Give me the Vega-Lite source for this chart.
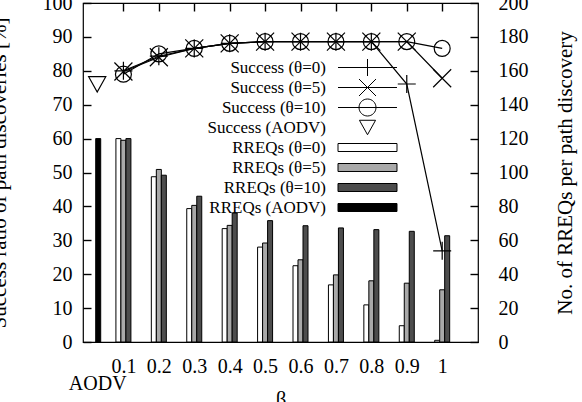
{
  "$schema": "https://vega.github.io/schema/vega-lite/v6.json",
  "width": 395,
  "height": 339,
  "autosize": {"type": "none"},
  "padding": {"left": 83, "top": 3, "right": 104, "bottom": 60},
  "background": "white",
  "data": {"values": [
    {"beta": 0.1, "series": "Success (θ=0)", "value": 80},
    {"beta": 0.2, "series": "Success (θ=0)", "value": 84.3},
    {"beta": 0.3, "series": "Success (θ=0)", "value": 86.6},
    {"beta": 0.4, "series": "Success (θ=0)", "value": 88.1},
    {"beta": 0.5, "series": "Success (θ=0)", "value": 88.6},
    {"beta": 0.6, "series": "Success (θ=0)", "value": 88.6},
    {"beta": 0.7, "series": "Success (θ=0)", "value": 88.6},
    {"beta": 0.8, "series": "Success (θ=0)", "value": 88.6},
    {"beta": 0.9, "series": "Success (θ=0)", "value": 76.1},
    {"beta": 1, "series": "Success (θ=0)", "value": 26.9},
    {"beta": 0.1, "series": "Success (θ=5)", "value": 79.8},
    {"beta": 0.2, "series": "Success (θ=5)", "value": 84},
    {"beta": 0.3, "series": "Success (θ=5)", "value": 86.6},
    {"beta": 0.4, "series": "Success (θ=5)", "value": 88.1},
    {"beta": 0.5, "series": "Success (θ=5)", "value": 88.6},
    {"beta": 0.6, "series": "Success (θ=5)", "value": 88.6},
    {"beta": 0.7, "series": "Success (θ=5)", "value": 88.6},
    {"beta": 0.8, "series": "Success (θ=5)", "value": 88.6},
    {"beta": 0.9, "series": "Success (θ=5)", "value": 88.6},
    {"beta": 1, "series": "Success (θ=5)", "value": 77.8},
    {"beta": 0.1, "series": "Success (θ=10)", "value": 79},
    {"beta": 0.2, "series": "Success (θ=10)", "value": 85},
    {"beta": 0.3, "series": "Success (θ=10)", "value": 86.6},
    {"beta": 0.4, "series": "Success (θ=10)", "value": 88.1},
    {"beta": 0.5, "series": "Success (θ=10)", "value": 88.6},
    {"beta": 0.6, "series": "Success (θ=10)", "value": 88.6},
    {"beta": 0.7, "series": "Success (θ=10)", "value": 88.6},
    {"beta": 0.8, "series": "Success (θ=10)", "value": 88.6},
    {"beta": 0.9, "series": "Success (θ=10)", "value": 88.6},
    {"beta": 1, "series": "Success (θ=10)", "value": 86.6},
    {"beta": 0.026, "series": "Success (AODV)", "value": 76},
    {"beta": 0.1, "series": "RREQs (θ=0)", "value": 120},
    {"beta": 0.2, "series": "RREQs (θ=0)", "value": 97.5},
    {"beta": 0.3, "series": "RREQs (θ=0)", "value": 78.7},
    {"beta": 0.4, "series": "RREQs (θ=0)", "value": 66.9},
    {"beta": 0.5, "series": "RREQs (θ=0)", "value": 56},
    {"beta": 0.6, "series": "RREQs (θ=0)", "value": 45},
    {"beta": 0.7, "series": "RREQs (θ=0)", "value": 33.7},
    {"beta": 0.8, "series": "RREQs (θ=0)", "value": 21.9},
    {"beta": 0.9, "series": "RREQs (θ=0)", "value": 9.6},
    {"beta": 1, "series": "RREQs (θ=0)", "value": 1},
    {"beta": 0.1, "series": "RREQs (θ=5)", "value": 119},
    {"beta": 0.2, "series": "RREQs (θ=5)", "value": 101.8},
    {"beta": 0.3, "series": "RREQs (θ=5)", "value": 80.6},
    {"beta": 0.4, "series": "RREQs (θ=5)", "value": 68.8},
    {"beta": 0.5, "series": "RREQs (θ=5)", "value": 58.4},
    {"beta": 0.6, "series": "RREQs (θ=5)", "value": 48.5},
    {"beta": 0.7, "series": "RREQs (θ=5)", "value": 39.6},
    {"beta": 0.8, "series": "RREQs (θ=5)", "value": 36.1},
    {"beta": 0.9, "series": "RREQs (θ=5)", "value": 34.7},
    {"beta": 1, "series": "RREQs (θ=5)", "value": 30.8},
    {"beta": 0.1, "series": "RREQs (θ=10)", "value": 120},
    {"beta": 0.2, "series": "RREQs (θ=10)", "value": 98.4},
    {"beta": 0.3, "series": "RREQs (θ=10)", "value": 86},
    {"beta": 0.4, "series": "RREQs (θ=10)", "value": 76.1},
    {"beta": 0.5, "series": "RREQs (θ=10)", "value": 71.6},
    {"beta": 0.6, "series": "RREQs (θ=10)", "value": 68.6},
    {"beta": 0.7, "series": "RREQs (θ=10)", "value": 67.3},
    {"beta": 0.8, "series": "RREQs (θ=10)", "value": 66.3},
    {"beta": 0.9, "series": "RREQs (θ=10)", "value": 65.3},
    {"beta": 1, "series": "RREQs (θ=10)", "value": 62.7},
    {"beta": 0.026, "series": "RREQs (AODV)", "value": 120}
  ]},
  "config": {
    "font": "Liberation Serif",
    "view": {"stroke": "black", "strokeWidth": 1.2},
    "axis": {"domain": false, "grid": false, "ticks": true, "tickColor": "black", "tickOpacity": 1, "tickSize": 8, "tickWidth": 1.4, "offset": -8, "zindex": 2, "labelColor": "black", "labelFont": "Liberation Serif", "labelFontSize": 20, "labelFlush": false, "labelOverlap": false, "titleColor": "black", "titleFont": "Liberation Serif", "titleFontSize": 21, "titleFontWeight": "normal"},
    "legend": {"orient": "none", "legendX": 275.5, "legendY": 55.5, "labelAlign": "right", "labelOffset": -50.5, "labelFont": "Liberation Serif", "labelFontSize": 17, "labelColor": "black", "symbolSize": 289, "symbolStrokeColor": "black", "symbolStrokeWidth": 1, "symbolOpacity": 1, "rowPadding": -5.6, "padding": 0, "symbolLimit": 0, "labelLimit": 0}
  },
  "resolve": {"scale": {"y": "independent"}, "axis": {"x": "independent"}},
  "layer": [
    {
      "encoding": {
        "x": {"field": "beta", "type": "quantitative", "scale": {"domain": [0, 1.087], "nice": false, "zero": false}, "axis": {"orient": "top", "values": [0.1, 0.2, 0.3, 0.4, 0.5, 0.6, 0.7, 0.8, 0.9, 1], "labels": false, "title": null}},
        "y": {"field": "value", "type": "quantitative", "scale": {"domain": [0, 200], "nice": false}, "axis": {"orient": "right", "values": [0, 20, 40, 60, 80, 100, 120, 140, 160, 180, 200], "labelPadding": 20, "title": "No. of RREQs per path discovery", "titleAngle": 270, "titleX": 101, "titleY": 169.5, "titleBaseline": "alphabetic", "titleAlign": "center"}}
      },
      "layer": [
        {
          "transform": [{"filter": "datum.series == 'RREQs (θ=0)'"}],
          "mark": {"type": "bar", "width": 5, "xOffset": -5, "stroke": "black", "strokeWidth": 1},
          "encoding": {"fill": {"field": "series", "type": "nominal", "legend": {"title": null, "encode": {"symbols": {"update": {"stroke": {"value": "black"}, "strokeWidth": {"value": 1}, "strokeOpacity": {"value": 1}, "opacity": {"value": 1}}}}}, "scale": {"domain": ["Success (θ=0)", "Success (θ=5)", "Success (θ=10)", "Success (AODV)", "RREQs (θ=0)", "RREQs (θ=5)", "RREQs (θ=10)", "RREQs (AODV)"], "range": ["transparent", "transparent", "transparent", "transparent", "white", "#a9a9a9", "#4d4d4d", "black"]}}}
        },
        {
          "transform": [{"filter": "datum.series == 'RREQs (θ=5)'"}],
          "mark": {"type": "bar", "width": 5, "xOffset": 0, "stroke": "black", "strokeWidth": 1},
          "encoding": {"fill": {"field": "series", "type": "nominal", "legend": {"title": null}}}
        },
        {
          "transform": [{"filter": "datum.series == 'RREQs (θ=10)'"}],
          "mark": {"type": "bar", "width": 5, "xOffset": 5, "stroke": "black", "strokeWidth": 1},
          "encoding": {"fill": {"field": "series", "type": "nominal", "legend": {"title": null}}}
        },
        {
          "transform": [{"filter": "datum.series == 'RREQs (AODV)'"}],
          "mark": {"type": "bar", "width": 5, "xOffset": 1, "stroke": "black", "strokeWidth": 1},
          "encoding": {"fill": {"field": "series", "type": "nominal", "legend": {"title": null}}}
        },
        {
          "mark": {"type": "point", "opacity": 0, "size": 289, "stroke": "black", "strokeWidth": 1},
          "encoding": {
            "shape": {"field": "series", "type": "nominal", "legend": {"title": null, "encode": {"symbols": {"update": {"stroke": {"value": "black"}, "strokeWidth": {"value": 1}, "strokeOpacity": {"value": 1}, "opacity": {"value": 1}}}}}, "scale": {"domain": ["Success (θ=0)", "Success (θ=5)", "Success (θ=10)", "Success (AODV)", "RREQs (θ=0)", "RREQs (θ=5)", "RREQs (θ=10)", "RREQs (AODV)"], "range": [
              "M-3.47,0H3.47M0,-1V1",
              "M-3.47,0H3.47M-1,-1L1,1M-1,1L1,-1",
              "M-3.47,0H3.47M-1,0A1,1,0,1,0,1,0A1,1,0,1,0,-1,0M0,-1M0,1",
              "M-0.95,-0.85L0.95,-0.85L0,0.85ZM0,-1M0,1",
              "M-3.47,-0.47H3.47V0.47H-3.47ZM0,-1M0,1",
              "M-3.47,-0.47H3.47V0.47H-3.47ZM0,-1M0,1",
              "M-3.47,-0.47H3.47V0.47H-3.47ZM0,-1M0,1",
              "M-3.47,-0.47H3.47V0.47H-3.47ZM0,-1M0,1"
            ]}},
            "fill": {"field": "series", "type": "nominal", "legend": {"title": null, "encode": {"symbols": {"update": {"stroke": {"value": "black"}, "strokeWidth": {"value": 1}, "strokeOpacity": {"value": 1}, "opacity": {"value": 1}}}}}}
          }
        }
      ]
    },
    {
      "transform": [{"filter": "indexof(datum.series, 'Success') == 0"}],
      "encoding": {
        "x": {"field": "beta", "type": "quantitative", "scale": {"domain": [0, 1.087], "nice": false, "zero": false}, "axis": {"orient": "bottom", "values": [0.026, 0.1, 0.2, 0.3, 0.4, 0.5, 0.6, 0.7, 0.8, 0.9, 1], "labelExpr": "datum.value < 0.05 ? ['', 'AODV'] : '' + datum.value", "labelBaseline": "alphabetic", "labelPadding": 30, "labelLineHeight": 17, "tickOpacity": {"condition": {"test": "datum.value < 0.05", "value": 0}, "value": 1}, "title": "β", "titleY": 71, "titleBaseline": "alphabetic"}},
        "y": {"field": "value", "type": "quantitative", "scale": {"domain": [0, 100], "nice": false}, "axis": {"orient": "left", "values": [0, 10, 20, 30, 40, 50, 60, 70, 80, 90, 100], "labelPadding": 11, "title": "Success ratio of path discoveries [%]", "titleAngle": 270, "titleX": -86, "titleY": 169.5, "titleBaseline": "alphabetic", "titleAlign": "center"}}
      },
      "layer": [
        {
          "transform": [{"filter": "datum.series != 'Success (AODV)'"}],
          "mark": {"type": "line", "color": "black", "strokeWidth": 1.2},
          "encoding": {"detail": {"field": "series", "type": "nominal"}}
        },
        {
          "transform": [{"filter": "datum.series == 'Success (θ=0)'"}],
          "mark": {"type": "point", "shape": "M-1,0H1M0,-1V1", "size": 324, "filled": false, "color": "black", "strokeWidth": 1.2, "opacity": 1}
        },
        {
          "transform": [{"filter": "datum.series == 'Success (θ=5)'"}],
          "mark": {"type": "point", "shape": "M-1,-1L1,1M-1,1L1,-1", "size": 324, "filled": false, "color": "black", "strokeWidth": 1.2, "opacity": 1}
        },
        {
          "transform": [{"filter": "datum.series == 'Success (θ=10)'"}],
          "mark": {"type": "point", "shape": "circle", "size": 254, "filled": false, "color": "black", "strokeWidth": 1.2, "opacity": 1}
        },
        {
          "transform": [{"filter": "datum.series == 'Success (AODV)'"}],
          "mark": {"type": "point", "shape": "M-0.95,-0.85L0.95,-0.85L0,0.85Z", "size": 324, "filled": false, "color": "black", "strokeWidth": 1.2, "opacity": 1}
        }
      ]
    }
  ]
}
